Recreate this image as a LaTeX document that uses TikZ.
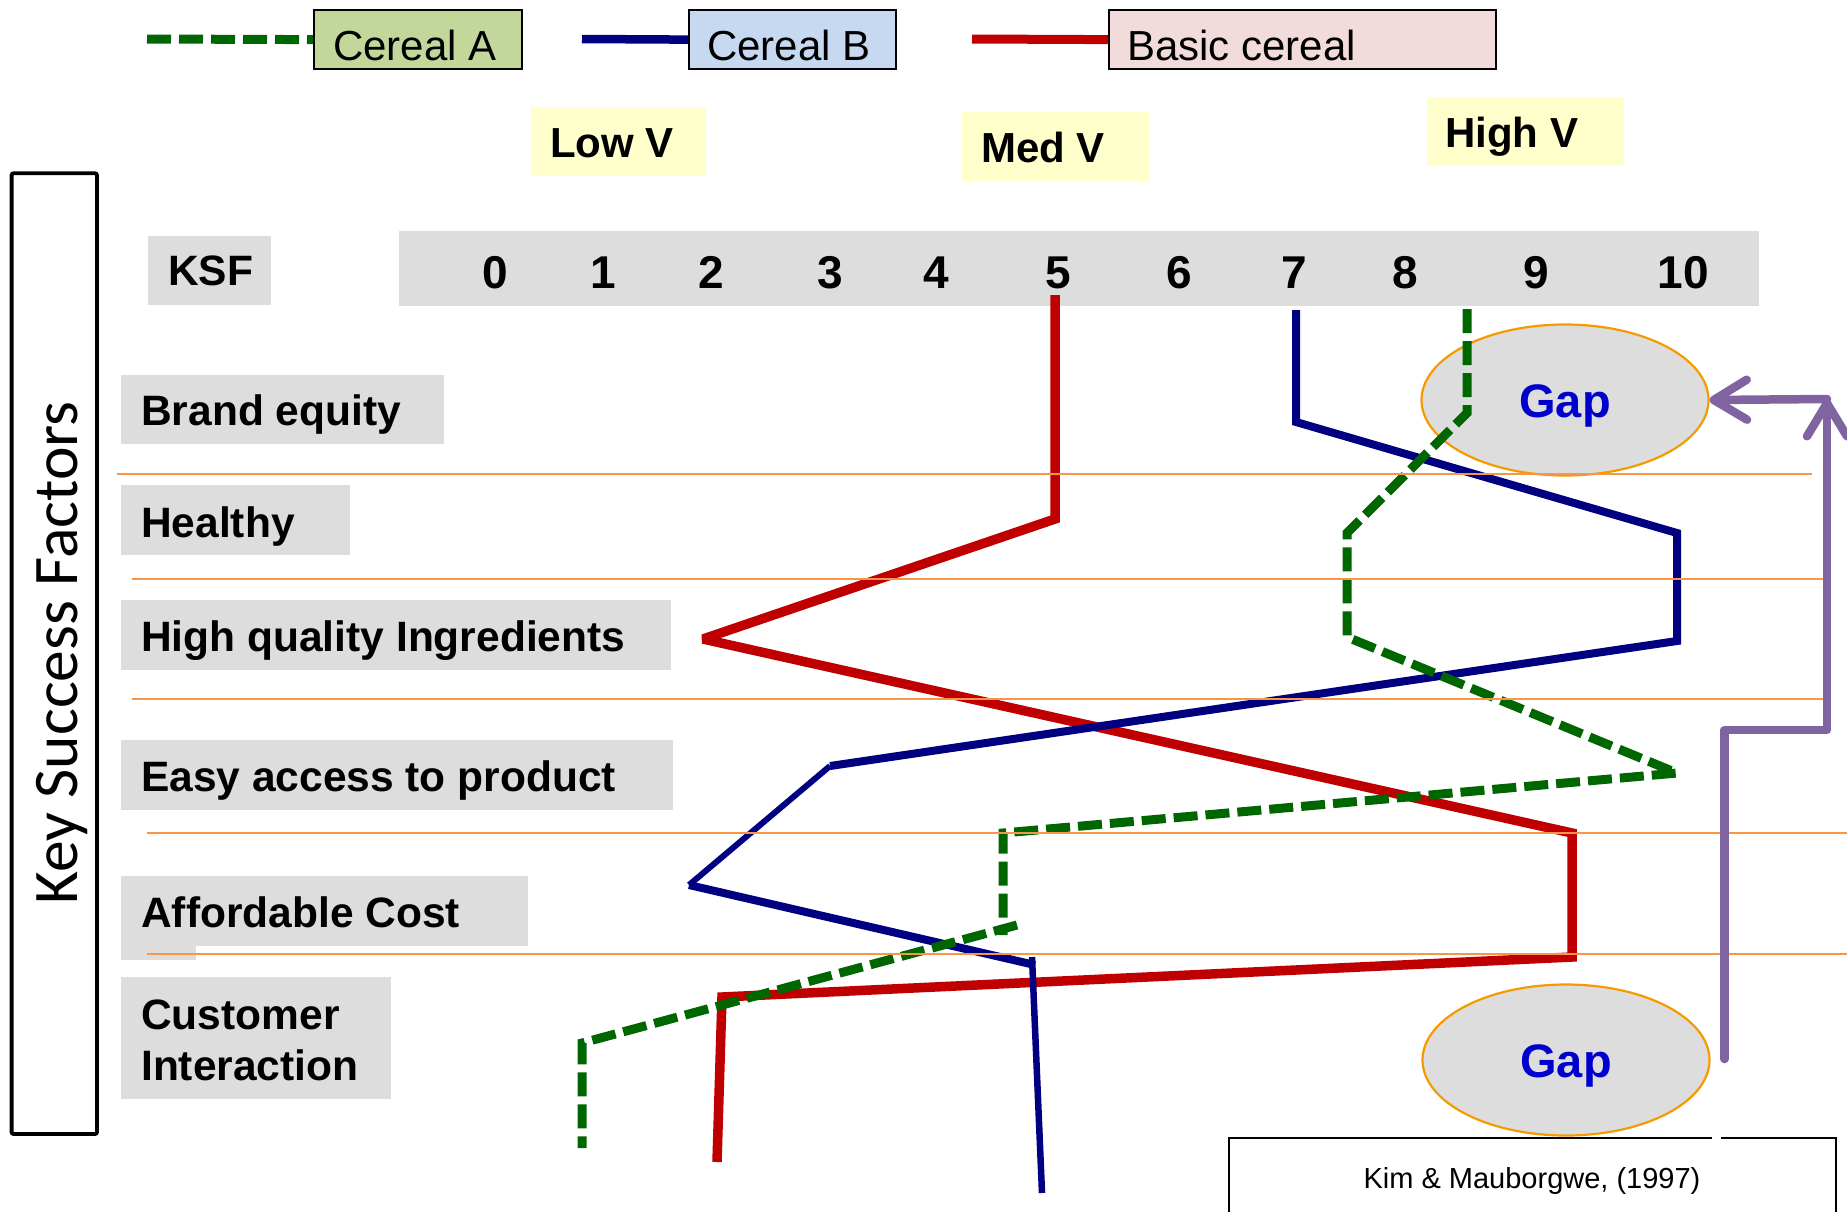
\documentclass[tikz,border=0pt]{standalone}
\usepackage{fontspec}
\setmainfont{Liberation Sans}
\newfontfamily\calibrifont{Carlito}
\usetikzlibrary{arrows.meta,calc,shapes.geometric}

\definecolor{panelgray}{HTML}{DDDDDD}
\definecolor{vyellow}{HTML}{FFFFCC}
\definecolor{cerealA}{HTML}{006600}
\definecolor{cerealB}{HTML}{000080}
\definecolor{basicred}{HTML}{C00000}
\definecolor{fillA}{HTML}{C4D79B}
\definecolor{fillB}{HTML}{C6D9F0}
\definecolor{fillBasic}{HTML}{F2DCDB}
\definecolor{rowline}{HTML}{F79646}
\definecolor{gaprim}{HTML}{F59B00}
\definecolor{gapblue}{HTML}{0000CC}
\definecolor{arrowpurple}{HTML}{8064A2}

\newcommand\setpx[1]{\fontsize{#1}{#1}\selectfont}

\tikzset{
  legbox/.style={draw=black, line width=2.2pt, anchor=north west, inner sep=0pt},
  legtext/.style={anchor=base west, inner sep=0pt, font=\setpx{42}},
  vtext/.style={anchor=base west, inner sep=0pt, font=\bfseries\setpx{42}},
  rowtext/.style={anchor=base west, inner sep=0pt, font=\bfseries\setpx{42.5}},
  scaletext/.style={anchor=base, inner sep=0pt, font=\bfseries\setpx{46}},
  gapnode/.style={ellipse, draw=gaprim, line width=2.2pt, fill=panelgray,
    minimum width=287pt, minimum height=151pt, inner sep=0pt,
    text=gapblue, font=\bfseries\setpx{47}, text height=34pt, text depth=0pt},
  sepline/.style={draw=rowline, line width=2.2pt},
  seriesA/.style={draw=cerealA, line width=9pt, dash pattern=on 24pt off 8pt},
  seriesB/.style={draw=cerealB, line width=8pt, line join=miter, miter limit=2},
  seriesBasic/.style={draw=basicred, line width=9.5pt, line join=miter, miter limit=2},
  parrow/.style={draw=arrowpurple, line width=8.5pt, line join=round, line cap=round,
    -{Straight Barb[length=33pt, width=40pt, round]},
    preaction={draw=black!15, transform canvas={shift={(2.5pt,-2.5pt)}}}},
}

\begin{document}
\begin{tikzpicture}[x=1pt, y=-1pt]
\useasboundingbox (0,0) rectangle (1847,1211);

% ---- legend ----
\node[legbox, fill=fillA, minimum width=208pt, minimum height=59pt] (legA) at (313,9) {};
\node[legbox, fill=fillB, minimum width=207pt, minimum height=59pt] (legB) at (688,9) {};
\node[legbox, fill=fillBasic, minimum width=387pt, minimum height=59pt] (legC) at (1108,9) {};
\node[legtext] (legAtext) at (333,60) {Cereal A};
\node[legtext] (legBtext) at (707,60) {Cereal B};
\node[legtext] (legCtext) at (1127,60) {Basic cereal};
\coordinate (legAstart) at (147,39);
\coordinate (legBstart) at (582,39);
\coordinate (legCstart) at (972,39);
\draw[seriesA] (legAstart) -- (legA.west);
\draw[seriesB, line width=8.5pt] (legBstart) -- (legB.west);
\draw[seriesBasic, line width=9pt] (legCstart) -- (legC.west);

% ---- value bands ----
\fill[vyellow] (531,107) rectangle (706,176);
\fill[vyellow] (962,112) rectangle (1149,181);
\fill[vyellow] (1427,97) rectangle (1624,166);
\node[vtext] (lowv) at (550,157) {Low V};
\node[vtext] (medv) at (981,162) {Med V};
\node[vtext] (highv) at (1445,147) {High V};

% ---- vertical title ----
\draw[line width=3.8pt, rounded corners=2pt] (11.6,173.3) rectangle (97,1134);
\node[rotate=90, anchor=base, inner sep=0pt, font=\calibrifont\setpx{63.5}] (ksftitle) at (77,653) {Key Success Factors};

% ---- header and scale ----
\fill[panelgray] (148,236) rectangle (271,305);
\node[rowtext] (ksf) at (168,285) {KSF};
\fill[panelgray] (399,231) rectangle (1759,306);
\foreach \v/\x in {0/495,1/603,2/711,3/830,4/936,5/1058,6/1179,7/1294,8/1405,9/1536,10/1683}
  \node[scaletext] (s\v) at (\x,288) {\v};

% ---- factor rows ----
\fill[panelgray] (121,375) rectangle (444,444);
\node[rowtext] (brand) at (141,425) {Brand equity};
\fill[panelgray] (121,485) rectangle (350,555);
\node[rowtext] (healthy) at (141,537) {Healthy};
\fill[panelgray] (121,600) rectangle (671,670);
\node[rowtext] (quality) at (141,651) {High quality Ingredients};
\fill[panelgray] (121,740) rectangle (673,810);
\node[rowtext] (access) at (141,791) {Easy access to product};
\fill[panelgray] (121,876) rectangle (528,946);
\fill[panelgray] (121,945) rectangle (196,960);
\node[rowtext] (cost) at (141,927) {Affordable Cost};
\fill[panelgray] (121,977) rectangle (391,1099);
\node[rowtext] (cust1) at (141,1029) {Customer};
\node[rowtext] (cust2) at (141,1080) {Interaction};

% ---- gap ellipses ----
\node[gapnode] (gapA) at (1565,400) {Gap};
\node[gapnode] (gapB) at (1566,1060) {Gap};

% ---- value curves ----
\draw[seriesBasic] (1055,295) -- (1055,519) -- (703,639) -- (1572,833)
  -- (1572,957) -- (722,997) -- (717,1162);
\draw[seriesB] (1296,310) -- (1296,422) -- (1677,533) -- (1677,641)
  -- (830,766);
\draw[seriesB, line width=6pt] (830,766) -- (689,885);
\draw[seriesB] (689,885) -- (1035,965);
\draw[seriesB, line width=6.5pt] (1032,957) -- (1042,1193);
\draw[seriesA] (1467,309) -- (1467,413) -- (1347,533) -- (1347,637)
  -- (1677,773) -- (1003,833) -- (1003,935);
\draw[seriesA] (1017,925) -- (582,1043) -- (582,1148);

% ---- row separators ----
\draw[sepline] (117,474) -- (1812,474);
\draw[sepline] (132,579) -- (1824,579);
\draw[sepline] (132,699) -- (1824,699);
\draw[sepline] (147,833) -- (1847,833);
\draw[sepline] (147,954) -- (1847,954);

% ---- gap arrows ----
\coordinate (pstart) at ($(gapB.east)+(14,-1)$);
\coordinate (pturn) at (1827,730);
\coordinate (ptop) at (1827,399);
\draw[parrow] (pstart) |- (pturn) -- (ptop);
\draw[parrow] (ptop) -- (gapA.east);

% ---- source ----
\draw[line width=1.8pt] (1229,1212) -- (1229,1138) -- (1712,1138);
\draw[line width=1.8pt] (1721,1138) -- (1836,1138) -- (1836,1212);
\node[anchor=base, inner sep=0pt, font=\setpx{29}] (source) at (1532,1188) {Kim \& Mauborgwe, (1997)};
\end{tikzpicture}
\end{document}
